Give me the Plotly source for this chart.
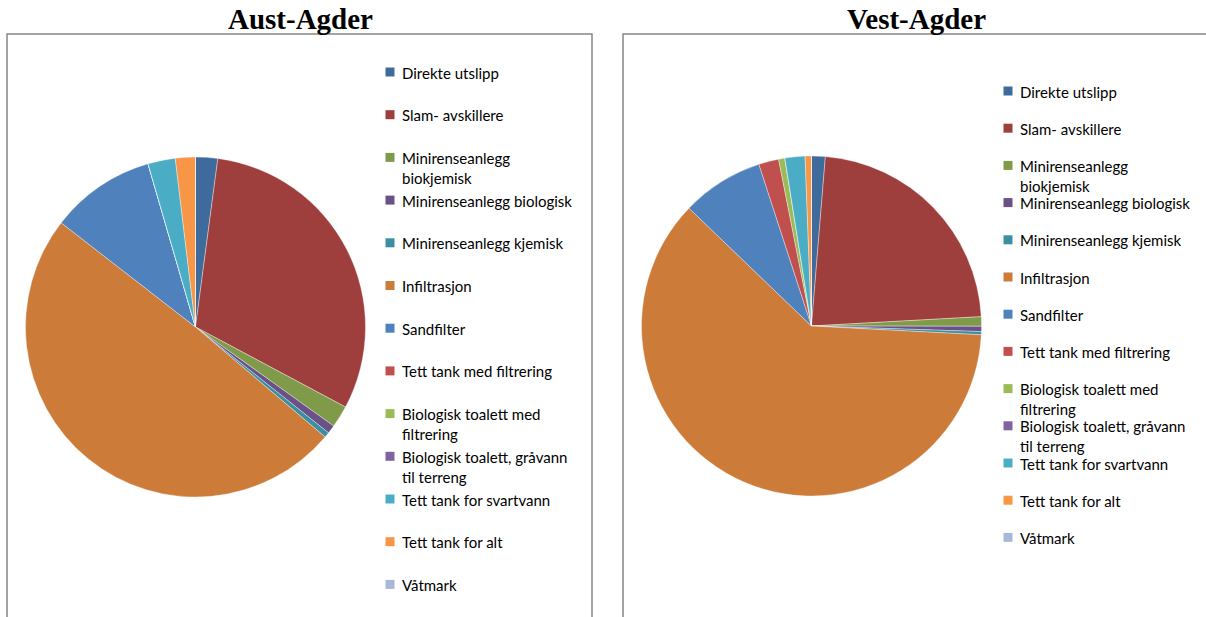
import plotly.graph_objects as go

# ---------------- data ----------------
labels = [
    "Direkte utslipp",
    "Slam- avskillere",
    "Minirenseanlegg biokjemisk",
    "Minirenseanlegg biologisk",
    "Minirenseanlegg kjemisk",
    "Infiltrasjon",
    "Sandfilter",
    "Tett tank med filtrering",
    "Biologisk toalett med filtrering",
    "Biologisk toalett, gråvann til terreng",
    "Tett tank for svartvann",
    "Tett tank for alt",
    "Våtmark",
]
legend_text = [
    "Direkte utslipp",
    "Slam- avskillere",
    "Minirenseanlegg<br>biokjemisk",
    "Minirenseanlegg biologisk",
    "Minirenseanlegg kjemisk",
    "Infiltrasjon",
    "Sandfilter",
    "Tett tank med filtrering",
    "Biologisk toalett med<br>filtrering",
    "Biologisk toalett, gråvann<br>til terreng",
    "Tett tank for svartvann",
    "Tett tank for alt",
    "Våtmark",
]
aust_values = [2.1, 30.7, 2.1, 0.8, 0.5, 49.3, 10.0, 0, 0, 0, 2.6, 1.9, 0]
vest_values = [1.3, 22.8, 0.9, 0.5, 0.3, 61.3, 7.8, 1.9, 0.6, 0, 1.9, 0.6, 0]
titles = ["Aust-Agder", "Vest-Agder"]

colors = [
    "#3F6A9C", "#9E3F3E", "#7F9A48", "#6A5187", "#3A8FA3", "#CC7B38",
    "#4F81BD", "#C0504D", "#9BBB59", "#8064A2", "#4BACC6", "#F79646", "#A9B8D8",
]

W, H = 1206, 617
def px(x):
    return x / W
def py(y):
    return 1 - y / H

fig = go.Figure()

# pies: (center x, center y, radius) in pixels
pie_geom = [(195.5, 327, 170), (811.5, 326, 170)]
for vals, (cx, cy, r), name in zip([aust_values, vest_values], pie_geom, titles):
    fig.add_trace(go.Pie(
        labels=labels, values=vals, name=name,
        sort=False, direction="clockwise", rotation=0,
        marker=dict(colors=colors, line=dict(color="rgba(255,255,255,0.6)", width=0.6)),
        textinfo="none", hoverinfo="label+percent",
        domain=dict(x=[px(cx - r), px(cx + r)], y=[py(cy + r), py(cy - r)]),
        showlegend=False,
    ))

shapes = []
annotations = []

# chart frames
frames = [(7, 592), (623, 1220)]
for x0, x1 in frames:
    shapes.append(dict(type="rect", xref="paper", yref="paper",
                       x0=px(x0), x1=px(x1), y0=py(34), y1=py(650),
                       line=dict(color="#878787", width=1.5), fillcolor="rgba(0,0,0,0)"))

# titles
for t, cx in zip(titles, [300, 916]):
    annotations.append(dict(text="<b>%s</b>" % t, x=px(cx), y=py(19), xref="paper", yref="paper",
                            xanchor="center", yanchor="middle", showarrow=False,
                            font=dict(family="Liberation Serif", size=29, color="#000000")))

# manual legends: (marker x, first item y, step)
legend_geom = [(390, 72, 42.7), (1008, 91, 37.2)]
for mx, y0, step in legend_geom:
    for i, (txt, col) in enumerate(zip(legend_text, colors)):
        yc = y0 + i * step
        shapes.append(dict(type="rect", xref="paper", yref="paper",
                           x0=px(mx - 4.5), x1=px(mx + 4.5), y0=py(yc + 4.5), y1=py(yc - 4.5),
                           line=dict(width=0), fillcolor=col))
        annotations.append(dict(text=txt, x=px(mx + 10), y=py(yc - 10.5), xref="paper", yref="paper",
                                xanchor="left", yanchor="top", align="left", showarrow=False,
                                font=dict(family="Lato", size=15, color="#000000")))

fig.update_layout(
    width=W, height=H,
    margin=dict(l=0, r=0, t=0, b=0),
    paper_bgcolor="white", plot_bgcolor="white",
    showlegend=False,
    shapes=shapes, annotations=annotations,
)

fig.write_html("out.html",
               config={"displayModeBar": False},
               post_script="document.body.style.margin='0';document.body.style.overflow='hidden';")
